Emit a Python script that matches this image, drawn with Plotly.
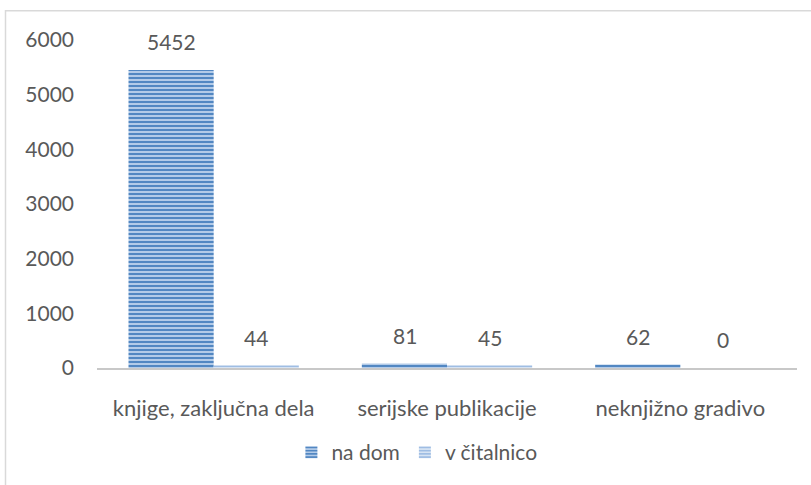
import plotly.graph_objects as go

categories = ["knjige, zaključna dela", "serijske publikacije", "neknjižno gradivo"]
na_dom = [5452, 81, 62]
v_citalnico = [44, 45, 0]
y_ticks = [0, 1000, 2000, 3000, 4000, 5000, 6000]

FONT = "Lato, 'Open Sans', sans-serif"
TXT = "#595959"
FS = 21

fig = go.Figure()
fig.add_trace(go.Bar(
    name="na dom", x=categories, y=na_dom,
    marker=dict(color="#8fb3de", line=dict(width=0),
                pattern=dict(shape="-", fgcolor="#5287c2", bgcolor="#b3cbe8",
                             size=4, solidity=0.5, fillmode="replace")),
))
fig.add_trace(go.Bar(
    name="v čitalnico", x=categories, y=v_citalnico,
    marker=dict(color="#c5d8ef", line=dict(width=0),
                pattern=dict(shape="-", fgcolor="#9fbde3", bgcolor="#d6e3f3",
                             size=4, solidity=0.5, fillmode="replace")),
))

annotations = []
for series, shift in ((na_dom, -42.5), (v_citalnico, 42.5)):
    for cat, val in zip(categories, series):
        annotations.append(dict(x=cat, y=val, xref="x", yref="y", text=str(val),
                                showarrow=False, xshift=shift, yshift=14,
                                yanchor="bottom", font=dict(size=FS, color=TXT, family=FONT)))

fig.update_layout(
    width=811, height=485,
    margin=dict(l=97, r=14, t=40, b=115),
    paper_bgcolor="white", plot_bgcolor="white",
    barmode="group", bargap=0.27, bargroupgap=0,
    font=dict(family=FONT, size=FS, color=TXT),
    showlegend=True,
    legend=dict(orientation="h", x=0.457, xanchor="center", y=-0.258, yanchor="middle",
                font=dict(size=FS, color=TXT), itemwidth=30, traceorder="normal"),
    xaxis=dict(showline=True, linecolor="#c8c8c8", linewidth=2, ticks="",
               showgrid=False, ticklabelstandoff=20,
               tickfont=dict(size=22, color=TXT)),
    yaxis=dict(range=[0, 6000], tickvals=y_ticks, showgrid=False, zeroline=False,
               showline=False, ticks="", ticklabelstandoff=22,
               tickfont=dict(size=FS, color=TXT)),
    annotations=annotations,
    shapes=[dict(type="rect", xref="paper", yref="paper",
                 x0=(5.5 - 97) / 700, x1=1.1, y0=-0.5, y1=1 + (40 - 10.5) / 330,
                 line=dict(color="#d9d9d9", width=1.5), fillcolor="rgba(0,0,0,0)",
                 layer="below")],
)

fig.write_html("out.html", config={"displayModeBar": False},
               post_script="document.body.style.margin='0';document.body.style.overflow='hidden';")
